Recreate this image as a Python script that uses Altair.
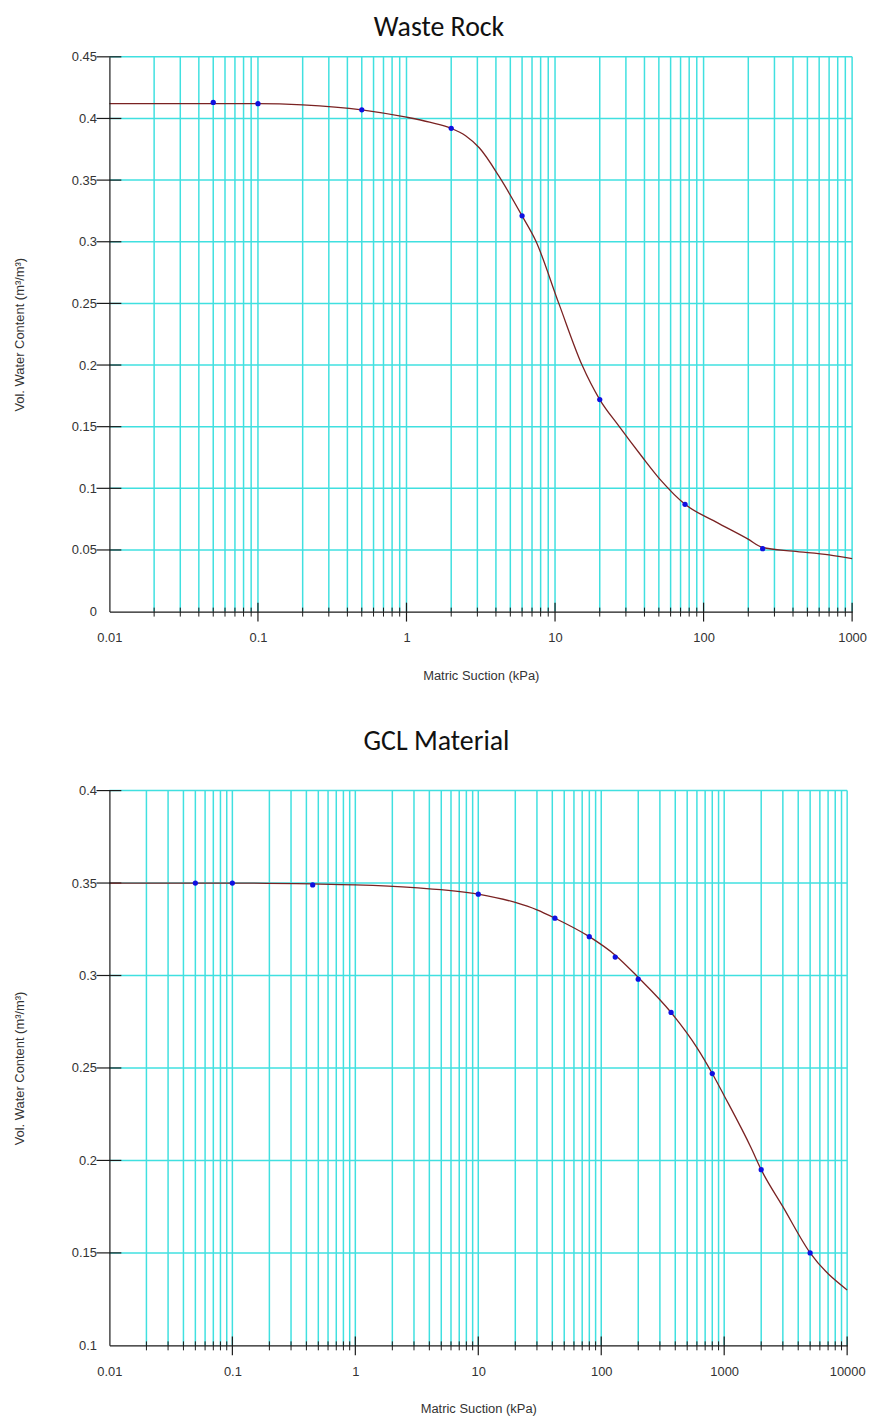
import altair as alt
import pandas as pd

# ---------------- Waste Rock ----------------
wr_curve_suction = [0.01, 0.05, 0.1, 0.2, 0.5, 1, 1.43, 2, 2.5, 3.1, 4.2, 6, 7.4, 10.6, 15.2,
                    20, 26.7, 38.3, 52, 75, 120, 198, 250, 400, 700, 1000]
wr_curve_theta = [0.412, 0.412, 0.412, 0.411, 0.407, 0.401, 0.397, 0.392, 0.386, 0.376,
                  0.353, 0.321, 0.301, 0.250, 0.200, 0.172, 0.151, 0.126, 0.106, 0.087,
                  0.073, 0.059, 0.052, 0.049, 0.046, 0.043]
wr_meas_suction = [0.05, 0.1, 0.5, 2, 6, 20, 75, 250]
wr_meas_theta = [0.413, 0.412, 0.407, 0.392, 0.321, 0.172, 0.087, 0.051]
wr_y_ticks = [0, 0.05, 0.1, 0.15, 0.2, 0.25, 0.3, 0.35, 0.4, 0.45]
wr_x_decades = [0.01, 0.1, 1, 10, 100, 1000]

# ---------------- GCL Material ----------------
gcl_curve_suction = [0.01, 0.1, 0.45, 1, 3, 10, 20, 30, 42, 80, 130, 200, 370, 600, 800,
                     1000, 1650, 2000, 3000, 5000, 10000]
gcl_curve_theta = [0.350, 0.350, 0.3495, 0.349, 0.3475, 0.344, 0.3395, 0.3355, 0.331, 0.321,
                   0.311, 0.299, 0.280, 0.261, 0.247, 0.235, 0.207, 0.195, 0.175, 0.150,
                   0.130]
gcl_meas_suction = [0.05, 0.1, 0.45, 10, 42, 80, 130, 200, 370, 800, 2000, 5000]
gcl_meas_theta = [0.350, 0.350, 0.349, 0.344, 0.331, 0.321, 0.310, 0.298, 0.280, 0.247,
                  0.195, 0.150]
gcl_y_ticks = [0.1, 0.15, 0.2, 0.25, 0.3, 0.35, 0.4]
gcl_x_decades = [0.01, 0.1, 1, 10, 100, 1000, 10000]

X_TITLE = "Matric Suction (kPa)"
Y_TITLE = "Vol. Water Content (m\u00b3/m\u00b3)"

CYAN = "#40e0e0"
INK = "#1a1a1a"
CURVE = "#7a2222"
BLUE = "#1010e0"
LABEL_FONT = "Liberation Sans"
TITLE_FONT = "Carlito, Lato, Open Sans"


def log_positions(decades):
    out = []
    for d in decades[:-1]:
        for m in range(1, 10):
            out.append(round(m * d, 6))
    out.append(decades[-1])
    return out


def panel(title, curve_x, curve_y, meas_x, meas_y, yticks, xdec, W, H, title_offset):
    xs = alt.Scale(type="log", domain=[xdec[0], xdec[-1]], nice=False)
    ys = alt.Scale(domain=[yticks[0], yticks[-1]], nice=False, zero=False)
    xaxis = alt.Axis(values=xdec, format="~g", grid=False, ticks=False, tickSize=0,
                     domain=True, domainColor=INK, domainWidth=1.2,
                     labelPadding=20, labelFont=LABEL_FONT, labelFontSize=13,
                     labelColor="#333333", labelFlush=False, labelOverlap=False,
                     title=X_TITLE, titleFont=LABEL_FONT, titleFontSize=13,
                     titleFontWeight="normal", titleColor="#333333", titlePadding=25,
                     zindex=1)
    yaxis = alt.Axis(values=yticks, format="~g", grid=False, ticks=False, tickSize=0,
                     domain=True, domainColor=INK, domainWidth=1.2,
                     labelPadding=13, labelFont=LABEL_FONT, labelFontSize=13,
                     labelColor="#333333", labelFlush=False, labelOverlap=False,
                     title=Y_TITLE, titleFont=LABEL_FONT, titleFontSize=13,
                     titleFontWeight="normal", titleColor="#333333", titlePadding=45,
                     zindex=1)
    X = alt.X("s:Q", scale=xs, axis=xaxis)
    Y = alt.Y("t:Q", scale=ys, axis=yaxis)

    pos = log_positions(xdec)
    grid_x = pos[1:]
    minor_x = [p for p in pos if p not in xdec]
    major_x = xdec[1:]

    vgrid = alt.Chart(pd.DataFrame({"s": grid_x})).mark_rule(
        color=CYAN, strokeWidth=1.5).encode(x=X)
    hgrid = alt.Chart(pd.DataFrame({"t": yticks[1:]})).mark_rule(
        color=CYAN, strokeWidth=1.5).encode(y=Y)
    xminor = alt.Chart(pd.DataFrame({"s": minor_x})).mark_rule(
        color=INK, strokeWidth=1).encode(x=X, y=alt.value(H - 4), y2=alt.value(H + 5))
    xmajor = alt.Chart(pd.DataFrame({"s": major_x})).mark_rule(
        color=INK, strokeWidth=1.2).encode(x=X, y=alt.value(H - 9), y2=alt.value(H + 10))
    ycross = alt.Chart(pd.DataFrame({"t": yticks[1:]})).mark_rule(
        color=INK, strokeWidth=1.2).encode(y=Y, x=alt.value(-13), x2=alt.value(12))
    curve = alt.Chart(pd.DataFrame({"s": curve_x, "t": curve_y})).mark_line(
        color=CURVE, strokeWidth=1.3, interpolate="monotone").encode(x=X, y=Y)
    pts = alt.Chart(pd.DataFrame({"s": meas_x, "t": meas_y})).mark_circle(
        color=BLUE, size=28, opacity=1).encode(x=X, y=Y)

    return alt.layer(vgrid, hgrid, xminor, xmajor, ycross, curve, pts).properties(
        width=W, height=H,
        title=alt.TitleParams(text=title, font=TITLE_FONT, fontSize=28,
                              fontWeight="normal", color="#111111",
                              anchor="middle", dx=-42, offset=title_offset))


top = panel("Waste Rock", wr_curve_suction, wr_curve_theta, wr_meas_suction,
            wr_meas_theta, wr_y_ticks, wr_x_decades, 747, 558, 9)
bottom = panel("GCL Material", gcl_curve_suction, gcl_curve_theta, gcl_meas_suction,
               gcl_meas_theta, gcl_y_ticks, gcl_x_decades, 742, 558, 29)

chart = alt.vconcat(top, bottom, spacing=46).properties(
    padding={"left": 5, "top": 2, "right": 5, "bottom": 5}
).configure_view(stroke=None)

chart.save("out.html", embed_options={"renderer": "svg", "actions": False})
